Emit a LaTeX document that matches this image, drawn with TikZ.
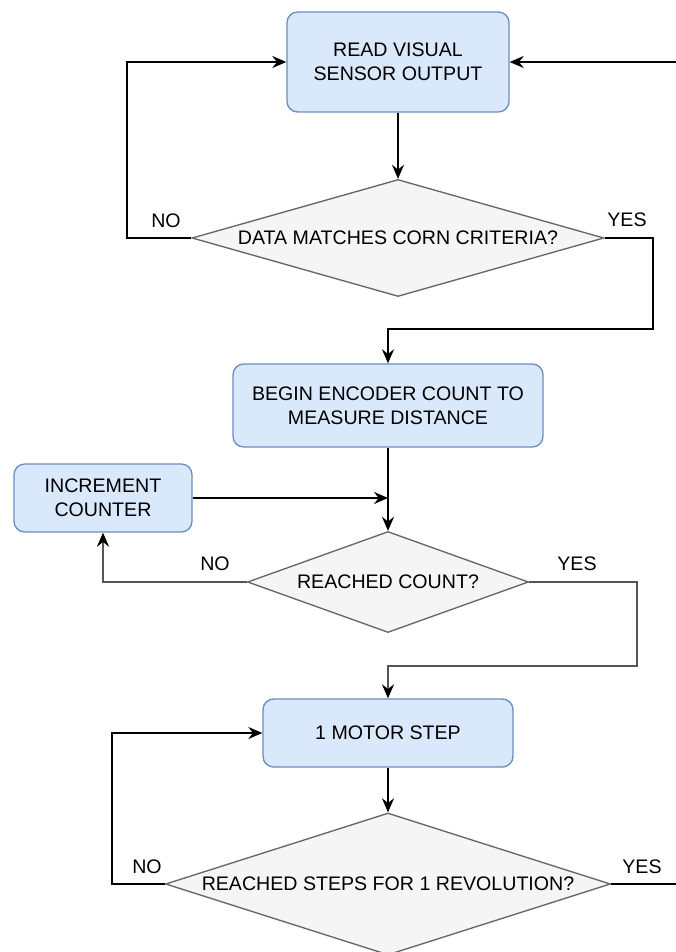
\documentclass[tikz,border=0pt]{standalone}
\usepackage{fontspec}
\setmainfont{Liberation Sans}
\usetikzlibrary{shapes.geometric,arrows.meta}
\definecolor{boxfill}{HTML}{DAE8FC}
\definecolor{boxline}{HTML}{6C8EBF}
\definecolor{decfill}{HTML}{F5F5F5}
\definecolor{decline}{HTML}{666666}
\definecolor{linkgray}{HTML}{555555}
\tikzset{
  process/.style={draw=boxline, fill=boxfill, rounded corners=8pt, line width=1pt, align=center, inner sep=0pt},
  decision/.style={draw=decline, fill=decfill, diamond, line width=1pt, inner sep=0pt, align=center},
  flow/.style={line width=1.4pt, -{Stealth[length=10.5pt,width=9pt,inset=3.5pt,color=black]}},
}
\begin{document}
\begin{tikzpicture}[x=0.75pt, y=-0.75pt, font=\fontsize{14.7}{18}\selectfont]
\useasboundingbox (0,0) rectangle (675,952);

\node[process, minimum width=166.5pt, minimum height=75pt] (read) at (398,62) {READ VISUAL\\SENSOR OUTPUT};
\node[decision, aspect=3.52, minimum width=309pt, minimum height=87.75pt] (corn) at (398,238) {DATA MATCHES CORN CRITERIA?};
\node[process, minimum width=232.5pt, minimum height=62.25pt] (encoder) at (388,405.5) {BEGIN ENCODER COUNT TO\\MEASURE DISTANCE};
\node[process, minimum width=133.5pt, minimum height=51pt] (incr) at (103,498) {INCREMENT\\COUNTER};
\node[decision, aspect=2.78, minimum width=210.75pt, minimum height=75.75pt] (count) at (388,582) {REACHED COUNT?};
\node[process, minimum width=187.5pt, minimum height=51pt] (motor) at (388,733) {1 MOTOR STEP};
\node[decision, aspect=3.13, minimum width=333.75pt, minimum height=106.5pt] (rev) at (388,884) {REACHED STEPS FOR 1 REVOLUTION?};

\node (no1) at (166,221) {NO};
\node (yes1) at (627,220) {YES};
\node (no2) at (215,564) {NO};
\node (yes2) at (577,564) {YES};
\node (no3) at (147,867) {NO};
\node (yes3) at (642,867) {YES};

\coordinate (j1) at (653,329);
\coordinate (j2) at (637,666);
\coordinate (m2) at (encoder.south |- incr.east);

\draw[flow] (read) -- (corn);
\draw[flow] (corn.west) -- ++(-64,0) |- (read.west);
\draw[flow] (corn.east) -| (j1) -| (encoder.north);
\draw[flow] (encoder) -- (count);
\draw[flow] (incr.east) -- (m2);
\draw[flow, draw=linkgray] (count.west) -| (incr.south);
\draw[flow, draw=linkgray] (count.east) -| (j2) -| (motor.north);
\draw[flow] (motor) -- (rev);
\draw[flow] (rev.west) -- ++(-53,0) |- (motor.west);
\draw[flow] (rev.east) -- ++(100,0) |- (read.east);

\end{tikzpicture}
\end{document}
